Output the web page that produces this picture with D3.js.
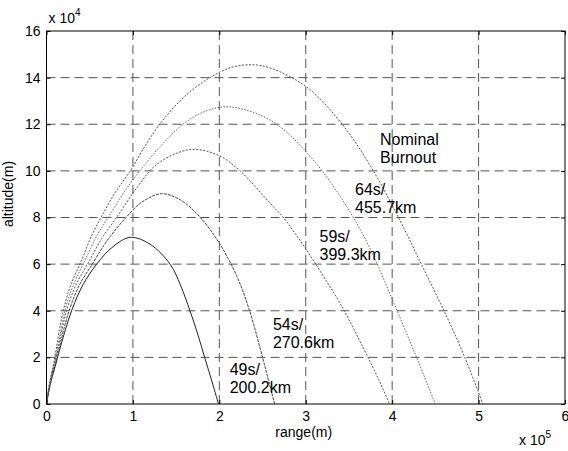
<!DOCTYPE html>
<html>
<head>
<meta charset="utf-8">
<script src="https://cdn.jsdelivr.net/npm/d3@7"></script>
<style>
  body { margin: 0; background: #fff; }
  text { font-family: "Liberation Sans", Arial, sans-serif; fill: #000; }
</style>
</head>
<body>
<div id="chart"></div>
<script>
// range in units of 1e5 m, altitude in units of 1e4 m
const xTicks = [0, 1, 2, 3, 4, 5, 6];
const yTicks = [0, 2, 4, 6, 8, 10, 12, 14, 16];

const traj49 = [[0,0],[0.04,0.8],[0.1,1.6],[0.15,2.3],[0.22,3.2],[0.3,4.1],[0.42,5.1],[0.58,6.0],[0.77,6.75],[0.97,7.15],[1.2,6.85],[1.43,6.0],[1.55,5.1],[1.66,4.0],[1.75,3.0],[1.83,2.0],[1.92,0.9],[1.99,0]];
const traj54 = [[0,0],[0.04,0.8],[0.09,1.6],[0.14,2.3],[0.2,3.2],[0.27,4.1],[0.38,5.1],[0.53,6],[0.7,7.0],[0.92,8],[1.1,8.65],[1.33,9.02],[1.55,8.75],[1.78,8.0],[2.0,6.9],[2.2,5.5],[2.35,4.0],[2.5,2.0],[2.57,1.0],[2.64,0]];
const traj59 = [[0,0],[0.035,0.8],[0.085,1.6],[0.13,2.3],[0.18,3.2],[0.24,4.1],[0.34,5.1],[0.49,6.1],[0.64,7.1],[0.81,8],[1.05,9.3],[1.25,10.2],[1.5,10.75],[1.72,10.92],[2.0,10.65],[2.24,10.0],[2.59,8.6],[2.74,8.0],[3.01,6.6],[3.2,5.5],[3.4,4.3],[3.68,2.3],[3.85,1.0],[3.97,0]];
const traj64 = [[0,0],[0.03,0.8],[0.08,1.6],[0.12,2.3],[0.17,3.2],[0.22,4.1],[0.31,5.1],[0.45,6.2],[0.58,7.2],[0.73,8.1],[0.9,9.1],[1.08,10],[1.33,11.1],[1.58,12],[1.8,12.5],[2.07,12.75],[2.4,12.5],[2.7,11.9],[3.08,10.5],[3.4,8.9],[3.7,7.0],[4.0,4.5],[4.26,2.2],[4.5,0]];
const trajNominal = [[0,0],[0.03,0.8],[0.075,1.6],[0.11,2.3],[0.15,3.2],[0.2,4.1],[0.28,5.1],[0.41,6.2],[0.52,7.2],[0.66,8.2],[0.8,9.1],[0.97,10],[1.13,11],[1.31,12],[1.6,13.2],[1.89,14],[2.15,14.45],[2.4,14.55],[2.6,14.4],[3.01,13.6],[3.4,12.1],[3.75,10.2],[4.1,7.8],[4.35,5.9],[4.6,4.0],[4.84,2.0],[5.05,0]];

const series = [
    {data: traj49, color: "#222", dash: null},
    {data: traj54, color: "#444", dash: "3,1"},
    {data: traj59, color: "#555", dash: "2,1.5"},
    {data: traj64, color: "#666", dash: "1.5,1.5"},
    {data: trajNominal, color: "#555", dash: "2,1.5"}
];

const labels = [
    {lines: ["Nominal", "Burnout"], x: 3.86, y: 11.1},
    {lines: ["64s/", "455.7km"], x: 3.57, y: 8.97},
    {lines: ["59s/", "399.3km"], x: 3.16, y: 6.95},
    {lines: ["54s/", "270.6km"], x: 2.62, y: 3.18},
    {lines: ["49s/", "200.2km"], x: 2.12, y: 1.24}
];

const W = 568, H = 451;
const margin = {top: 31, right: 3, bottom: 47, left: 46.5};
const width = W - margin.left - margin.right;
const height = H - margin.top - margin.bottom;

const svg = d3.select("#chart")
    .append("svg")
    .attr("width", W)
    .attr("height", H)
    .append("g")
    .attr("transform", `translate(${margin.left},${margin.top})`);

const x = d3.scaleLinear().domain([0, 6]).range([0, width]);
const y = d3.scaleLinear().domain([0, 16]).range([height, 0]);

// Grid
svg.append("g")
    .selectAll("line")
    .data(xTicks.slice(1, -1))
    .join("line")
    .attr("x1", d => x(d)).attr("x2", d => x(d))
    .attr("y1", 0).attr("y2", height)
    .attr("stroke", "#555")
    .attr("stroke-width", 1)
    .attr("stroke-dasharray", "9,5");

svg.append("g")
    .selectAll("line")
    .data(yTicks.slice(1, -1))
    .join("line")
    .attr("y1", d => y(d)).attr("y2", d => y(d))
    .attr("x1", 0).attr("x2", width)
    .attr("stroke", "#555")
    .attr("stroke-width", 1)
    .attr("stroke-dasharray", "9,5");

// Trajectories
const line = d3.line()
    .x(d => x(d[0]))
    .y(d => y(d[1]))
    .curve(d3.curveCatmullRom.alpha(0.5));

series.forEach(s => {
    svg.append("path")
        .datum(s.data)
        .attr("d", line)
        .attr("fill", "none")
        .attr("stroke", s.color)
        .attr("stroke-width", 1)
        .attr("stroke-dasharray", s.dash);
});

// Axes (ticks inside, MATLAB style)
const tickFont = g => g.selectAll("text")
    .style("font-size", "14px")
    .style("font-family", "Liberation Sans, Arial, sans-serif");

svg.append("g")
    .attr("transform", `translate(0,${height})`)
    .call(d3.axisBottom(x).tickValues(xTicks).tickSize(-4).tickPadding(7).tickFormat(d3.format("d")))
    .call(g => g.select(".domain").remove())
    .call(tickFont);

svg.append("g")
    .call(d3.axisLeft(y).tickValues(yTicks).tickSize(-4).tickPadding(6).tickFormat(d3.format("d")))
    .call(g => g.select(".domain").remove())
    .call(tickFont);

svg.append("g")
    .call(d3.axisTop(x).tickValues(xTicks).tickSize(-4).tickFormat(""))
    .call(g => g.select(".domain").remove());

svg.append("g")
    .attr("transform", `translate(${width},0)`)
    .call(d3.axisRight(y).tickValues(yTicks).tickSize(-4).tickFormat(""))
    .call(g => g.select(".domain").remove());

// Frame
svg.append("rect")
    .attr("width", width)
    .attr("height", height)
    .attr("fill", "none")
    .attr("stroke", "#000")
    .attr("stroke-width", 1);

// Exponent labels
const expTop = svg.append("text").attr("x", 2).attr("y", -8).style("font-size", "14px");
expTop.append("tspan").text("x 10");
expTop.append("tspan").attr("dy", -7).style("font-size", "10px").text("4");

const expBottom = svg.append("text").attr("x", width - 46).attr("y", height + 41).style("font-size", "14px");
expBottom.append("tspan").text("x 10");
expBottom.append("tspan").attr("dy", -7).style("font-size", "10px").text("5");

// Axis titles
svg.append("text")
    .attr("x", x(3) - 2)
    .attr("y", height + 33)
    .attr("text-anchor", "middle")
    .style("font-size", "14px")
    .text("range(m)");

svg.append("text")
    .attr("transform", "rotate(-90)")
    .attr("x", -163)
    .attr("y", -34)
    .attr("text-anchor", "middle")
    .style("font-size", "14px")
    .text("altitude(m)");

// Annotations
labels.forEach(l => {
    const t = svg.append("text")
        .attr("x", x(l.x))
        .attr("y", y(l.y))
        .style("font-size", "16px");
    l.lines.forEach((s, i) => {
        t.append("tspan")
            .attr("x", x(l.x))
            .attr("dy", i === 0 ? 0 : 18)
            .text(s);
    });
});
</script>
</body>
</html>
